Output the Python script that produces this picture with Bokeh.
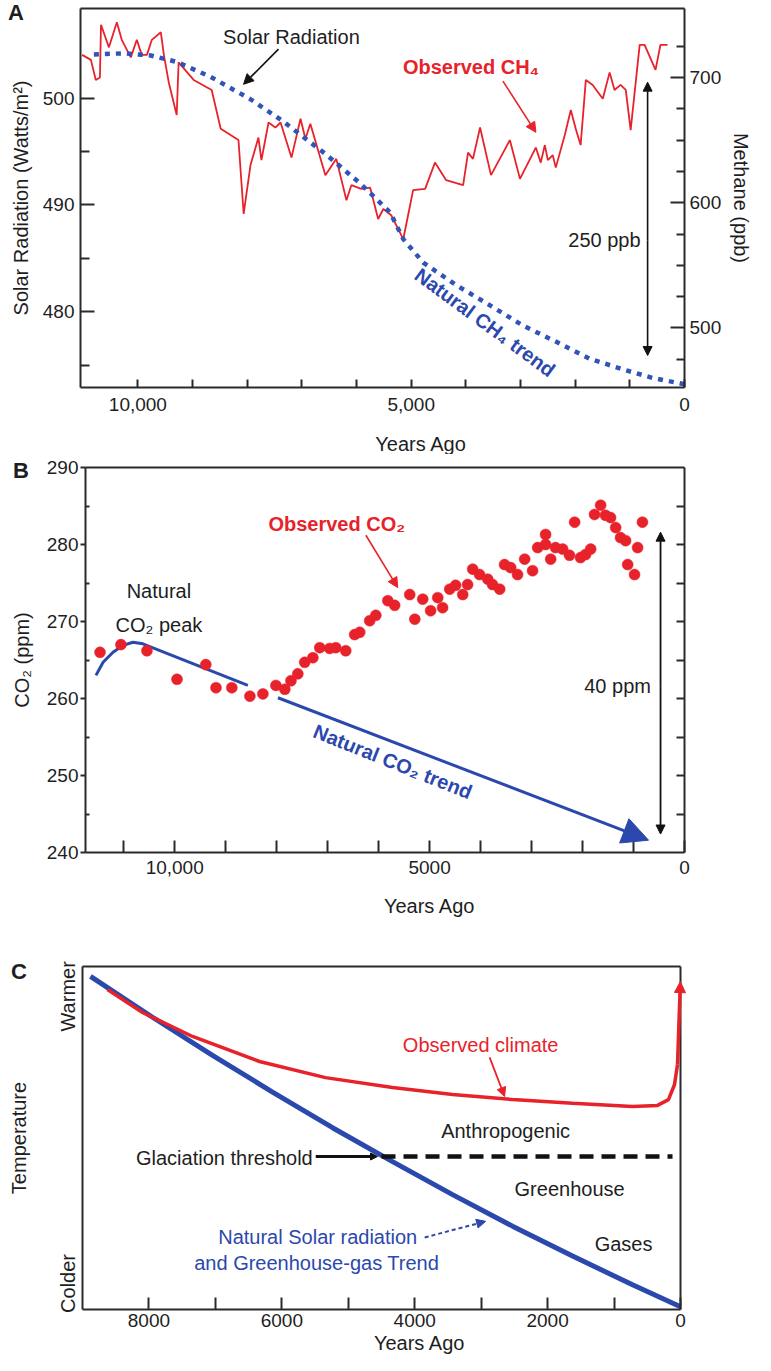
from bokeh.plotting import figure
from bokeh.models import (Range1d, LinearAxis, FixedTicker, Label, Arrow, NormalHead,
                          NumeralTickFormatter, CustomJSTickFormatter)
from bokeh.layouts import column
from bokeh.embed import file_html
from bokeh.resources import INLINE

FONT = "Liberation Sans"
RED = "#e8222a"
BLUE = "#2b48ad"
DOTBLUE = "#3253b8"
DARK = "#2a2a2a"
TXT = "#1e1e1e"

# ---------------- Panel A data ----------------
ch4_years = [11020, 10860, 10770, 10695, 10675, 10530, 10385, 10295, 10130, 10020, 9930, 9835,
             9745, 9580, 9525, 9435, 9290, 9255, 8980, 8650, 8485, 8160, 8065, 7940, 7795, 7740,
             7610, 7485, 7390, 7190, 7025, 6935, 6845, 6570, 6370, 6185, 6095, 5915, 5750, 5605,
             5510, 5365, 5145, 5020, 4965, 4745, 4565, 4360, 4050, 3960, 3870, 3740, 3540, 3195,
             3010, 2720, 2630, 2555, 2500, 2410, 2355, 2190, 2080, 1990, 1900, 1805, 1680, 1495,
             1370, 1280, 1170, 1075, 985, 820, 730, 530, 440, 310]
ch4_ppb = [718, 714, 698, 700, 742, 724, 744, 730, 716, 730, 718, 718,
           730, 736, 718, 696, 670, 712, 698, 690, 659, 650, 591, 630, 652, 634,
           664, 660, 664, 636, 667, 651, 663, 622, 635, 602, 614, 611, 612, 587,
           595, 590, 571, 598, 610, 611, 632, 618, 614, 640, 635, 660, 622, 650,
           619, 644, 632, 646, 634, 638, 628, 654, 674, 659, 646, 698, 694, 683,
           704, 690, 694, 690, 658, 726, 726, 706, 726, 726]
solar_years = [10805, 10255, 9765, 9290, 8670, 7940, 7335, 6550, 5930, 5385, 5145, 4780,
               4180, 3560, 2955, 2355, 1735, 1130, 585, 0]
solar_wm2 = [504.1, 504.2, 504.0, 503.4, 502.0, 499.9, 497.8, 494.7, 492.0, 489.3, 486.8, 484.6,
             482.5, 480.6, 478.7, 477.2, 475.6, 474.6, 473.8, 473.2]

# ---------------- Panel B data ----------------
co2_years = [11465, 11055, 10545, 9955, 9390, 9190, 8880, 8525, 8270, 8015, 7840, 7720, 7585,
             7450, 7290, 7155, 6960, 6840, 6645, 6470, 6370, 6175, 6055, 5820, 5685, 5390, 5290,
             5135, 4980, 4840, 4745, 4605, 4490, 4350, 4255, 4155, 4020, 3860, 3765, 3625, 3530,
             3410, 3275, 3135, 2980, 2880, 2725, 2725, 2625, 2530, 2390, 2255, 2155, 2040, 1940,
             1840, 1765, 1645, 1550, 1450, 1350, 1255, 1155, 1115, 980, 920, 825]
co2_ppm = [266.0, 267.0, 266.2, 262.5, 264.4, 261.4, 261.4, 260.3, 260.6, 261.7, 261.2, 262.3, 263.2,
           264.7, 265.3, 266.6, 266.5, 266.6, 266.2, 268.3, 268.6, 270.1, 270.8, 272.7, 272.1, 273.5, 270.3,
           272.9, 271.4, 273.1, 271.8, 274.2, 274.7, 273.5, 274.8, 276.8, 276.1, 275.5, 274.8, 274.2, 277.4,
           277.0, 276.1, 278.1, 276.6, 279.6, 280.0, 281.3, 278.1, 279.6, 279.4, 278.6, 282.9, 278.3, 278.7,
           279.4, 283.9, 285.1, 283.8, 283.5, 282.2, 280.9, 280.5, 277.4, 276.1, 279.6, 282.9]
co2_peak_years = [11545, 11405, 11210, 11015, 10820, 10625, 8565]
co2_peak_ppm = [263.0, 264.7, 266.0, 266.9, 267.3, 267.1, 261.7]
co2_trend_years = [7975, 705]
co2_trend_ppm = [260.1, 241.6]

# ---------------- Panel C data ----------------
natural_years = [8880, 7946, 7043, 6140, 5237, 4334, 3431, 2528, 1625, 722, 0]
natural_temp = [97.1, 85.2, 74.1, 63.4, 53.0, 43.1, 33.5, 24.3, 15.6, 7.2, 0.8]
observed_years = [8624, 8097, 7344, 6336, 5343, 4334, 3431, 2528, 1625, 722, 346, 181, 90, 45]
observed_temp = [93.3, 86.6, 79.6, 72.3, 67.6, 64.7, 62.7, 61.2, 60.1, 59.2, 59.5, 61.2, 65.6, 71.4]
glaciation_level = 44.6
glaciation_solid_years = [5490, 4560]
glaciation_dash_years = [4500, 120]


def span(a, b, frame_px, pad_a, pad_b):
    """Range whose values a..b fill frame_px pixels, padded by pad_a/pad_b pixels."""
    per = (b - a) / frame_px
    return Range1d(a - per * pad_a, b + per * pad_b)


def base_fig(width, height, xr, yr):
    p = figure(width=width, height=height, x_range=xr, y_range=yr,
               output_backend="svg", toolbar_location=None,
               x_axis_location=None, y_axis_location=None, min_border=0)
    p.grid.grid_line_color = None
    p.outline_line_color = None
    p.background_fill_color = "white"
    p.border_fill_color = "white"
    return p


def make_axis(ticks, minor, tick_in, minor_in, tick_out=0, minor_out=0, standoff=6,
              label_size="19px", **kw):
    ax = LinearAxis(**kw)
    ax.ticker = FixedTicker(ticks=ticks, minor_ticks=minor)
    ax.axis_line_color = DARK
    ax.axis_line_width = 2
    ax.major_tick_in = tick_in
    ax.major_tick_out = tick_out
    ax.minor_tick_in = minor_in
    ax.minor_tick_out = minor_out
    ax.major_tick_line_color = DARK
    ax.major_tick_line_width = 2
    ax.minor_tick_line_color = DARK
    ax.minor_tick_line_width = 2
    ax.major_label_standoff = standoff
    ax.major_label_text_font = FONT
    ax.major_label_text_font_size = label_size
    ax.major_label_text_color = TXT
    ax.axis_label_text_font = FONT
    ax.axis_label_text_font_size = "20px"
    ax.axis_label_text_font_style = "normal"
    ax.axis_label_text_color = TXT
    return ax


def spine(**kw):
    ax = LinearAxis(**kw)
    ax.ticker = FixedTicker(ticks=[])
    ax.axis_line_color = DARK
    ax.axis_line_width = 2
    ax.major_tick_line_color = None
    ax.minor_tick_line_color = None
    ax.major_label_text_color = None
    return ax


def lab(p, x, y, text, size="20px", color=TXT, bold=False, align="center",
        baseline="middle", angle=0.0):
    p.add_layout(Label(x=x, y=y, text=text, text_font=FONT, text_font_size=size,
                       text_color=color, text_font_style="bold" if bold else "normal",
                       text_align=align, text_baseline=baseline, angle=angle))


def arr(p, x0, y0, x1, y1, color, width=1.6, size=10, both=False, dash="solid"):
    kw = dict(end=NormalHead(size=size, fill_color=color, line_color=color, line_width=1),
              x_start=x0, y_start=y0, x_end=x1, y_end=y1,
              line_color=color, line_width=width, line_dash=dash)
    if both:
        kw["start"] = NormalHead(size=size, fill_color=color, line_color=color, line_width=1)
    p.add_layout(Arrow(**kw))


# ================= Panel A =================
A_X0, A_X1, A_Y0, A_Y1, A_M0, A_M1 = 11050, 0, 472.9, 508.4, 452.5, 755
pA = base_fig(755, 454, span(A_X0, A_X1, 604, 80, 71), span(A_Y0, A_Y1, 379, 67, 8))
pA.extra_y_ranges = {"ch4": span(A_M0, A_M1, 379, 67, 8)}

axA_b = make_axis([0, 5000, 10000], [1000, 2000, 3000, 4000, 6000, 7000, 8000, 9000], 8, 8,
                  standoff=10, fixed_location=A_Y0, bounds=(A_X1, A_X0))
axA_b.formatter = NumeralTickFormatter(format="0,0")
pA.add_layout(axA_b, "below")

axA_l = make_axis([480, 490, 500], [475, 485, 495], 14, 9, standoff=6,
                  fixed_location=A_X0, bounds=(A_Y0, A_Y1))
axA_l.axis_label = "Solar Radiation (Watts/m²)"
axA_l.axis_label_standoff = 8
pA.add_layout(axA_l, "left")

axA_r = make_axis([500, 600, 700], [475, 525, 550, 575, 625, 650, 675, 725], 14, 8, standoff=5,
                  y_range_name="ch4", fixed_location=A_X1, bounds=(A_M0, A_M1))
axA_r.axis_label = "Methane (ppb)"
axA_r.axis_label_standoff = 6
pA.add_layout(axA_r, "right")
pA.add_layout(spine(fixed_location=A_Y1, bounds=(A_X1, A_X0)), "above")

pA.line(ch4_years, ch4_ppb, y_range_name="ch4", line_color=RED, line_width=1.8)
pA.line(solar_years, solar_wm2, line_color=DOTBLUE, line_width=4.5, line_dash="5 6")

lab(pA, 12230, 508.0, "A", size="22px", bold=True)
lab(pA, 7191, 505.7, "Solar Radiation")
arr(pA, 7428, 504.6, 8067, 501.3, "#111111", width=1.6, size=10)
lab(pA, 3906, 502.9, "Observed CH₄", color=RED, bold=True)
arr(pA, 3322, 501.6, 2719, 496.8, RED, width=1.6, size=10)
lab(pA, 3650, 479.0, "Natural CH₄ trend", color=BLUE, bold=True, angle=-0.634)
arr(pA, 675, 486.7, 675, 501.5, "#111111", width=1.6, size=9)
arr(pA, 675, 486.7, 675, 475.9, "#111111", width=1.6, size=9)
lab(pA, 803, 486.7, "250 ppb", align="right")
lab(pA, 4818, 467.6, "Years Ago")

# ================= Panel B =================
B_X0, B_X1, B_Y0, B_Y1 = 11750, 0, 240, 290
pB = base_fig(755, 470, span(B_X0, B_X1, 599, 85, 71), span(B_Y0, B_Y1, 385, 72, 13))

axB_b = make_axis([0, 5000, 10000], [1000, 2000, 3000, 4000, 6000, 7000, 8000, 9000, 11000],
                  12, 12, standoff=8, fixed_location=B_Y0, bounds=(B_X1, B_X0))
axB_b.formatter = CustomJSTickFormatter(code="return tick >= 10000 ? '10,000' : String(tick);")
pB.add_layout(axB_b, "below")

axB_l = make_axis([240, 250, 260, 270, 280, 290], [245, 255, 265, 275, 285], 0, 4,
                  tick_out=5, standoff=2, fixed_location=B_X0, bounds=(B_Y0, B_Y1))
axB_l.axis_label = "CO₂ (ppm)"
axB_l.axis_label_standoff = 11
pB.add_layout(axB_l, "left")

axB_r = make_axis([245, 250, 255, 260, 265, 270, 275, 280, 285], [], 8, 0, standoff=0,
                  fixed_location=B_X1, bounds=(B_Y0, B_Y1))
axB_r.major_label_text_color = None
pB.add_layout(axB_r, "right")
pB.add_layout(spine(fixed_location=B_Y1, bounds=(B_X1, B_X0)), "above")

pB.line(co2_peak_years, co2_peak_ppm, line_color=BLUE, line_width=3)
pB.add_layout(Arrow(end=NormalHead(size=26, fill_color=BLUE, line_color=BLUE, line_width=1),
                    x_start=co2_trend_years[0], y_start=co2_trend_ppm[0],
                    x_end=co2_trend_years[1], y_end=co2_trend_ppm[1],
                    line_color=BLUE, line_width=3))
pB.scatter(co2_years, co2_ppm, size=11, fill_color=RED, line_color=RED, line_width=0.5)

lab(pB, 13014, 289.6, "B", size="22px", bold=True)
lab(pB, 10310, 274.0, "Natural")
lab(pB, 10310, 269.5, "CO₂ peak")
lab(pB, 6821, 282.6, "Observed CO₂", color=RED, bold=True)
arr(pB, 6250, 281.2, 5625, 274.4, RED, width=1.6, size=10)
lab(pB, 5723, 251.8, "Natural CO₂ trend", color=BLUE, bold=True, angle=-0.38)
arr(pB, 470, 261.6, 470, 281.6, "#111111", width=1.8, size=9)
arr(pB, 470, 261.6, 470, 242.4, "#111111", width=1.8, size=9)
lab(pB, 1313, 261.6, "40 ppm")
lab(pB, 4998, 233.1, "Years Ago")

# ================= Panel C =================
C_X0, C_X1, C_Y0, C_Y1 = 9000, 0, 0, 100
pC = base_fig(755, 431, span(C_X0, C_X1, 598, 82, 75), span(C_Y0, C_Y1, 343, 46, 42))

axC_b = make_axis([0, 2000, 4000, 6000, 8000], [1000, 3000, 5000, 7000], 12, 12, standoff=4,
                  fixed_location=C_Y0, bounds=(C_X1, C_X0))
pC.add_layout(axC_b, "below")

axC_l = make_axis([7.6, 91.3], [], 0, 0, standoff=3, label_size="20px",
                  fixed_location=C_X0, bounds=(C_Y0, C_Y1))
axC_l.major_tick_line_color = None
axC_l.formatter = CustomJSTickFormatter(code="return tick > 50 ? 'Warmer' : 'Colder';")
axC_l.major_label_orientation = "vertical"
axC_l.axis_label = "Temperature"
axC_l.axis_label_standoff = 25
pC.add_layout(axC_l, "left")
pC.add_layout(spine(fixed_location=C_X1, bounds=(C_Y0, C_Y1)), "right")
pC.add_layout(spine(fixed_location=C_Y1, bounds=(C_X1, C_X0)), "above")

pC.line(natural_years, natural_temp, line_color=BLUE, line_width=5)
pC.line(observed_years, observed_temp, line_color=RED, line_width=3.5)
arr(pC, 45, 71.4, 2, 95.6, RED, width=3.5, size=11)

pC.add_layout(Arrow(end=NormalHead(size=7, fill_color="#111111", line_color="#111111"),
                    x_start=glaciation_solid_years[0], y_start=glaciation_level,
                    x_end=glaciation_solid_years[1], y_end=glaciation_level,
                    line_color="#111111", line_width=3))
pC.line(glaciation_dash_years, [glaciation_level, glaciation_level], line_color="#111111",
        line_width=4.5, line_dash="14 8")

lab(pC, 9956, 98.5, "C", size="22px", bold=True)
lab(pC, 3008, 77.0, "Observed climate", color=RED)
arr(pC, 2873, 73.5, 2647, 62.1, RED, width=1.8, size=9)
lab(pC, 2632, 51.9, "Anthropogenic")
lab(pC, 5535, 44.3, "Glaciation threshold", align="right")
lab(pC, 1669, 35.0, "Greenhouse")
lab(pC, 857, 19.2, "Gases")
lab(pC, 5460, 21.0, "Natural Solar radiation", color=BLUE)
lab(pC, 5475, 13.7, "and Greenhouse-gas Trend", color=BLUE)
arr(pC, 3850, 21.0, 2933, 25.7, BLUE, width=2, size=9, dash="4 3")
lab(pC, 3925, -9.7, "Years Ago")

layout = column(pA, pB, pC, spacing=0)
open("out.html", "w").write(file_html(layout, INLINE))
